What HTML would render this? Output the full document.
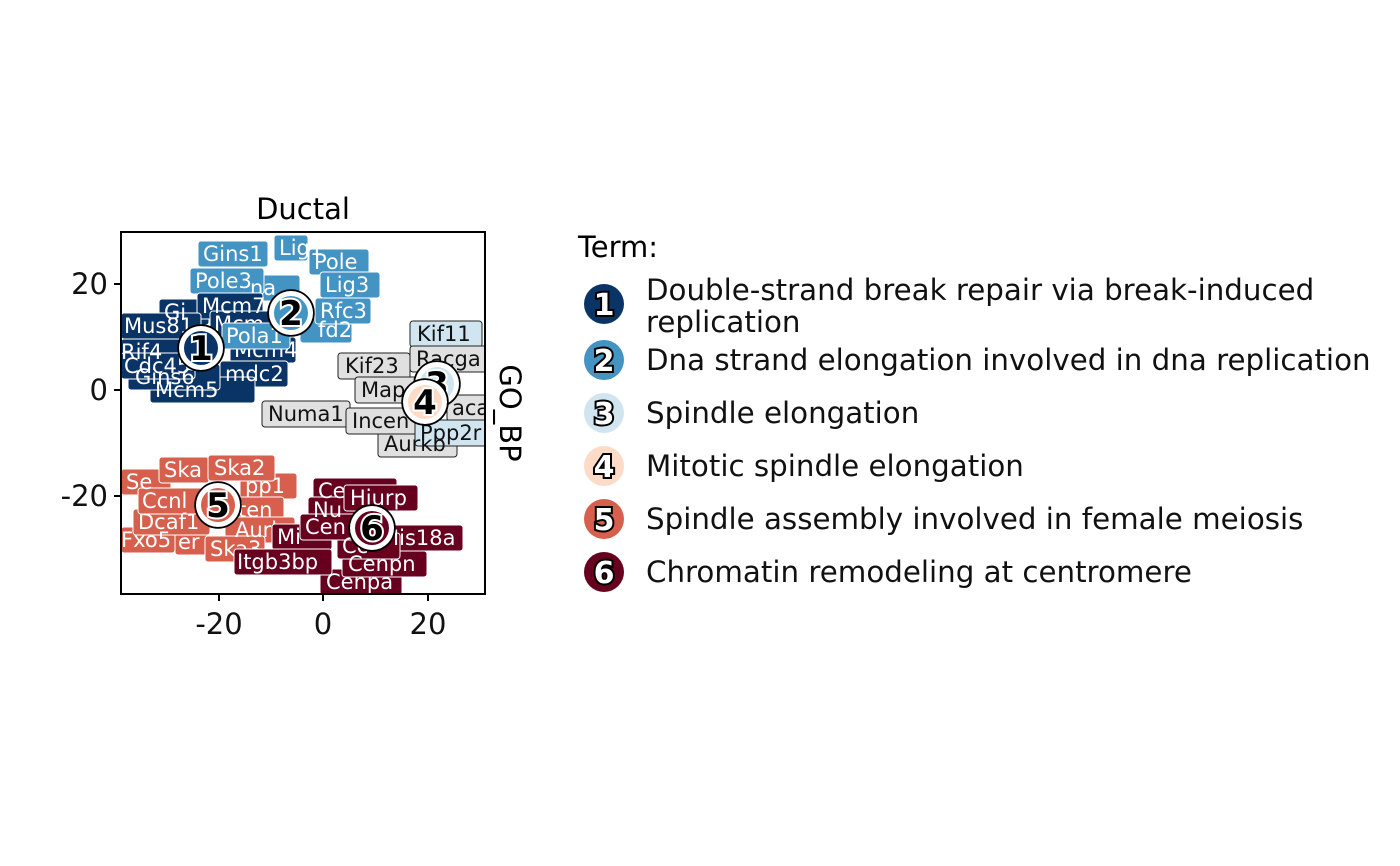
<!DOCTYPE html>
<html><head><meta charset="utf-8"><style>
html,body{margin:0;padding:0;background:#fff;}
svg{display:block;font-family:"DejaVu Sans","Liberation Sans",sans-serif;}
.l{font-size:21px;fill:#fff;}
.g{font-size:21px;fill:#111;}
</style></head><body>
<svg width="1400" height="866" viewBox="0 0 1400 866" xmlns="http://www.w3.org/2000/svg">
<defs><clipPath id="p"><rect x="121" y="232" width="364" height="362"/></clipPath></defs>
<text x="303" y="219" font-size="29" text-anchor="middle">Ductal</text>
<g clip-path="url(#p)" stroke="#fff" stroke-width="1">
<g fill="#4393c3">
<rect x="198" y="241" width="70" height="26" rx="3"/><rect x="274" y="235" width="34" height="26" rx="3"/>
<rect x="309" y="249" width="60" height="26" rx="3"/><rect x="230" y="275" width="70" height="26" rx="3"/>
<rect x="320" y="272" width="60" height="26" rx="3"/><rect x="190" y="268" width="74" height="26" rx="3"/>
<rect x="300" y="317" width="52" height="26" rx="3"/><rect x="315" y="298" width="56" height="26" rx="3"/>
</g>
<g class="l" stroke="none">
<text x="203" y="261">Gins1</text><text x="279" y="255">Lig1</text><text x="314" y="269">Pole</text>
<text x="250" y="295">na</text><text x="325" y="292">Lig3</text><text x="195" y="288">Pole3</text>
<text x="318" y="337">fd2</text><text x="320" y="318">Rfc3</text>
</g>
<g fill="#0b3466">
<rect x="159" y="299" width="50" height="26" rx="3"/><rect x="197" y="293" width="66" height="26" rx="3"/>
<rect x="121" y="313" width="80" height="26" rx="3"/><rect x="121" y="339" width="60" height="26" rx="3"/>
<rect x="230" y="337" width="66" height="26" rx="3"/><rect x="220" y="361" width="68" height="26" rx="3"/>
<rect x="150" y="377" width="105" height="26" rx="3"/><rect x="128" y="364" width="92" height="26" rx="3"/>
<rect x="121" y="353" width="74" height="26" rx="3"/><rect x="210" y="311" width="80" height="26" rx="3"/>
</g>
<g class="l" stroke="none">
<text x="164" y="319">Gi</text><text x="202" y="313">Mcm7</text><text x="124" y="333">Mus81</text>
<text x="121" y="359">Rif4</text><text x="234" y="357">Mcm4</text><text x="225" y="381">mdc2</text>
<text x="155" y="397">Mcm5</text><text x="135" y="384">Gins6</text><text x="124" y="373">Cdc45</text>
<text x="214" y="331">Mcm</text>
</g>
<rect x="222" y="323" width="68" height="26" rx="3" fill="#4393c3"/><text class="l" stroke="none" x="226" y="343">Pola1</text>
<g fill="#e0e0e0" stroke="#222">
<rect x="410" y="321" width="72" height="26" rx="3" fill="#d1e5f0"/>
<rect x="410" y="346" width="80" height="26" rx="3"/><rect x="338" y="353" width="72" height="26" rx="3"/>
<rect x="355" y="377" width="65" height="26" rx="3"/><rect x="262" y="401" width="88" height="26" rx="3"/>
<rect x="378" y="431" width="79" height="26" rx="3"/><rect x="346" y="408" width="74" height="26" rx="3"/>
<rect x="447" y="395" width="40" height="26" rx="3"/><rect x="415" y="420" width="72" height="26" rx="3" fill="#d1e5f0"/>
</g>
<g class="g" stroke="none">
<text x="417" y="341">Kif11</text><text x="416" y="366">Racga</text><text x="345" y="373">Kif23</text>
<text x="361" y="397">Map</text><text x="268" y="421">Numa1</text><text x="384" y="451">Aurkb</text>
<text x="352" y="428">Incen</text><text x="452" y="415">aca</text><text x="420" y="440">Ppp2r</text>
</g>
<g fill="#d6604d">
<rect x="121" y="469" width="50" height="26" rx="3"/><rect x="240" y="473" width="57" height="26" rx="3"/>
<rect x="159" y="457" width="50" height="26" rx="3"/><rect x="208" y="455" width="67" height="26" rx="3"/>
<rect x="220" y="497" width="64" height="26" rx="3"/><rect x="225" y="517" width="70" height="26" rx="3"/>
<rect x="121" y="527" width="54" height="26" rx="3"/><rect x="175" y="529" width="32" height="26" rx="3"/>
<rect x="133" y="509" width="77" height="26" rx="3"/><rect x="205" y="536" width="60" height="26" rx="3"/>
<rect x="138" y="488" width="72" height="26" rx="3"/>
</g>
<g class="l" stroke="none">
<text x="126" y="489">Se</text><text x="245" y="493">pp1</text><text x="164" y="477">Ska</text>
<text x="214" y="475">Ska2</text><text x="238" y="517">ten</text><text x="235" y="537">Aurl</text>
<text x="121" y="547">Fxo5</text><text x="178" y="549">er</text><text x="138" y="529">Dcaf1</text>
<text x="210" y="556">Ska3</text><text x="142" y="508">Ccnl</text>
</g>
<g fill="#67001f">
<rect x="313" y="478" width="84" height="26" rx="3"/><rect x="308" y="497" width="52" height="26" rx="3"/>
<rect x="272" y="524" width="60" height="26" rx="3"/><rect x="370" y="525" width="93" height="26" rx="3"/>
<rect x="320" y="569" width="82" height="26" rx="3"/><rect x="342" y="551" width="85" height="26" rx="3"/>
<rect x="337" y="533" width="63" height="26" rx="3"/><rect x="300" y="514" width="72" height="26" rx="3"/>
<rect x="344" y="485" width="74" height="26" rx="3"/><rect x="234" y="549" width="98" height="26" rx="3"/>
</g>
<g class="l" stroke="none">
<text x="318" y="498">Ce</text><text x="313" y="517">Nu</text><text x="277" y="544">Mi</text>
<text x="381" y="545">Mis18a</text><text x="326" y="589">Cenpa</text><text x="348" y="571">Cenpn</text>
<text x="342" y="553">Cc</text><text x="305" y="534">Cen</text><text x="350" y="505">Hiurp</text>
<text x="237" y="569">Itgb3bp</text>
</g>
</g>
<g font-size="34" font-weight="bold" text-anchor="middle" paint-order="stroke">
<g><circle cx="201" cy="348" r="22" fill="#fff" stroke="#000" stroke-width="3.5"/><circle cx="201" cy="348" r="17" fill="#0b3466"/><text x="201" y="360" fill="#000" stroke="#fff" stroke-width="4">1</text></g>
<g><circle cx="291" cy="313" r="22" fill="#fff" stroke="#000" stroke-width="3.5"/><circle cx="291" cy="313" r="17" fill="#4393c3"/><text x="291" y="325" fill="#000" stroke="#fff" stroke-width="4">2</text></g>
<g><circle cx="437" cy="384" r="22" fill="#fff" stroke="#000" stroke-width="3.5"/><circle cx="437" cy="384" r="17" fill="#d1e5f0"/><text x="437" y="396" fill="#000" stroke="#fff" stroke-width="4">3</text></g>
<g><circle cx="425" cy="402" r="22" fill="#fff" stroke="#000" stroke-width="3.5"/><circle cx="425" cy="402" r="17" fill="#fddbc7"/><text x="425" y="414" fill="#000" stroke="#fff" stroke-width="4">4</text></g>
<g><circle cx="218" cy="505" r="22" fill="#fff" stroke="#000" stroke-width="3.5"/><circle cx="218" cy="505" r="17" fill="#d6604d"/><text x="218" y="517" fill="#000" stroke="#fff" stroke-width="4">5</text></g>
<g><circle cx="372" cy="528" r="22" fill="#fff" stroke="#000" stroke-width="3.5"/><circle cx="372" cy="528" r="17" fill="#67001f"/><text x="372" y="540" fill="#000" stroke="#fff" stroke-width="4">6</text></g>
</g>
<rect x="121" y="232" width="364" height="362" fill="none" stroke="#000" stroke-width="2"/>
<g stroke="#000" stroke-width="2">
<line x1="219" y1="594" x2="219" y2="601"/><line x1="323" y1="594" x2="323" y2="601"/><line x1="428" y1="594" x2="428" y2="601"/>
<line x1="114" y1="284" x2="121" y2="284"/><line x1="114" y1="390" x2="121" y2="390"/><line x1="114" y1="496" x2="121" y2="496"/>
</g>
<g font-size="29" fill="#111">
<text x="219" y="634" text-anchor="middle">-20</text><text x="323" y="634" text-anchor="middle">0</text><text x="428" y="634" text-anchor="middle">20</text>
<text x="108" y="294" text-anchor="end">20</text><text x="108" y="400" text-anchor="end">0</text><text x="108" y="506" text-anchor="end">-20</text>
</g>
<text transform="translate(500,413) rotate(90)" font-size="29" text-anchor="middle">GO_BP</text>
<text x="578" y="257" font-size="29">Term:</text>
<g font-size="30" font-weight="bold" text-anchor="middle" paint-order="stroke">
<circle cx="604" cy="304" r="20" fill="#0b3466"/><text x="604" y="315" fill="#fff" stroke="#000" stroke-width="4">1</text>
<circle cx="604" cy="360" r="20" fill="#4393c3"/><text x="604" y="371" fill="#fff" stroke="#000" stroke-width="4">2</text>
<circle cx="604" cy="413" r="20" fill="#d1e5f0"/><text x="604" y="424" fill="#fff" stroke="#000" stroke-width="4">3</text>
<circle cx="604" cy="466" r="20" fill="#fddbc7"/><text x="604" y="477" fill="#fff" stroke="#000" stroke-width="4">4</text>
<circle cx="604" cy="519" r="20" fill="#d6604d"/><text x="604" y="530" fill="#fff" stroke="#000" stroke-width="4">5</text>
<circle cx="604" cy="572" r="20" fill="#67001f"/><text x="604" y="583" fill="#fff" stroke="#000" stroke-width="4">6</text>
</g>
<g font-size="29.3" fill="#111">
<text x="646" y="300">Double-strand break repair via break-induced</text>
<text x="646" y="332">replication</text>
<text x="646" y="370">Dna strand elongation involved in dna replication</text>
<text x="646" y="423">Spindle elongation</text>
<text x="646" y="476">Mitotic spindle elongation</text>
<text x="646" y="529">Spindle assembly involved in female meiosis</text>
<text x="646" y="582">Chromatin remodeling at centromere</text>
</g>
</svg>
</body></html>
